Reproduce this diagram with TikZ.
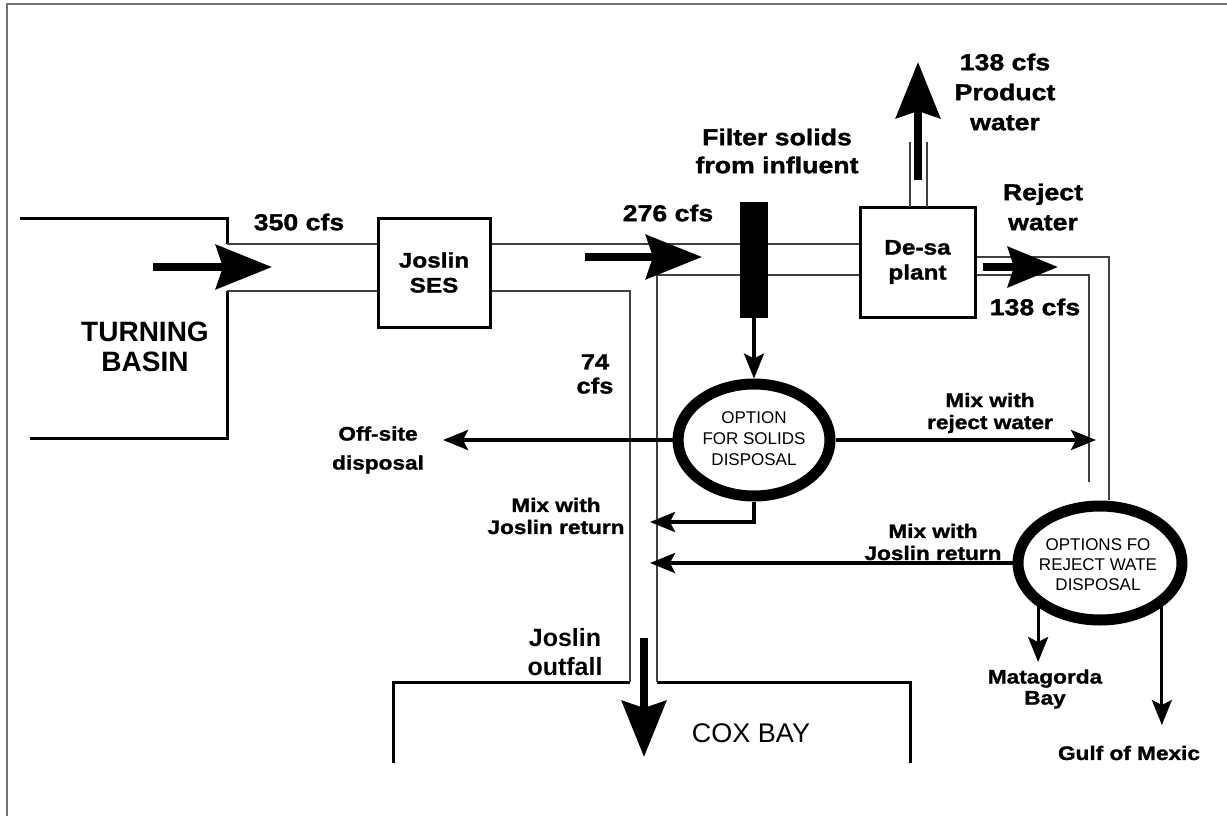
\documentclass[tikz,border=0pt]{standalone}
\usepackage{fontspec}
\setmainfont{Liberation Sans}
\newfontfamily\blk[FakeStretch=1.16,FakeBold=1.4]{Liberation Sans}
\usetikzlibrary{arrows.meta,shapes.geometric}
\begin{document}
\begin{tikzpicture}[x=1pt,y=-1pt,
  pipe/.style={line width=1.1pt, black!75},
  wall/.style={line width=3pt},
  frame/.style={line width=1.4pt, black!55},
  wallbox/.style={draw, line width=3pt, inner sep=0pt, align=center,
    font=\blk\bfseries\fontsize{21}{25}\selectfont},
  bigarrow/.style={line width=8pt, -{Stealth[length=56pt,width=44pt,inset=7pt]}},
  smallarrow/.style={line width=3.2pt, -{Stealth[length=25pt,width=20pt,inset=5pt]}},
  optell/.style={ellipse, draw, line width=11pt, inner sep=0pt},
  opttext/.style={align=center, inner sep=0pt, font=\fontsize{17}{21}\selectfont},
  lab/.style={align=center, inner sep=0pt, font=\blk\bfseries\fontsize{23}{29}\selectfont},
  labm/.style={align=center, inner sep=0pt, font=\blk\bfseries\fontsize{22}{24}\selectfont},
  labs/.style={align=center, inner sep=0pt, font=\blk\bfseries\fontsize{19.5}{22}\selectfont},
  bigname/.style={align=center, inner sep=0pt, font=\bfseries\fontsize{28}{30}\selectfont},
  outname/.style={align=center, inner sep=0pt, font=\bfseries\fontsize{25}{29}\selectfont},
  bayname/.style={align=center, inner sep=0pt, font=\fontsize{27}{30}\selectfont}]
\useasboundingbox (0,0) rectangle (1227,816);

% frame of the scanned page
\draw[frame] (7,816) -- (7,4) -- (1227,4);

% helper levels
\coordinate (ya) at (0,244);
\coordinate (yb) at (0,291);
\coordinate (yc) at (0,275);
\coordinate (yd) at (0,257);

% nodes
\node[wallbox, minimum width=112pt, minimum height=109pt] (jos) at (434,272.5) {Joslin\\SES};
\node[fill=black, minimum width=28pt, minimum height=116pt, inner sep=0pt] (filt) at (754,260) {};
\node[wallbox, minimum width=115pt, minimum height=110pt] (desa) at (917.5,262) {De-sa\\plant};
\node[optell, minimum width=152pt, minimum height=112pt] (sol) at (754,440) {};
\node[opttext] (soltxt) at (754,439) {OPTION\\FOR SOLIDS\\DISPOSAL};
\node[optell, minimum width=164pt, minimum height=114pt] (rej) at (1100,563) {};
\node[opttext, font=\fontsize{17}{20}\selectfont] (rejtxt) at (1098,565) {OPTIONS FO\\REJECT WATE\\DISPOSAL};

% Turning basin
\draw[wall] (20,218) -- (227,218) -- (227,244);
\draw[wall] (227,291) -- (227,438) -- (30,438);
\node[bigname] (tb) at (145,347) {TURNING\\BASIN};

% Cox Bay
\draw[wall] (393,763) -- (393,682) -- (630,682);
\draw[wall] (657,682) -- (910,682) -- (910,763);
\node[bayname] (cox) at (751,733) {COX BAY};

% pipes
\draw[pipe] (227,244) -- (jos.west |- ya);
\draw[pipe] (227,291) -- (jos.west |- yb);
\draw[pipe] (jos.east |- ya) -- (filt.west |- ya);
\draw[pipe] (filt.east |- ya) -- (desa.west |- ya);
\draw[pipe] (jos.east |- yb) -- (630,291) -- (630,682);
\draw[pipe] (657,682) -- (657,275) -- (filt.west |- yc);
\draw[pipe] (filt.east |- yc) -- (desa.west |- yc);
\draw[pipe] (910,142) -- (910,207);
\draw[pipe] (927,142) -- (927,207);
\draw[pipe] (desa.east |- yd) -- (1109,257) -- (1109,500);
\draw[pipe] (desa.east |- yc) -- (1089,275) -- (1089,482);

% big flow arrows
\coordinate (a1s) at (153,267); \coordinate (a1t) at (272,267);
\draw[bigarrow] (a1s) -- (a1t);
\coordinate (a2s) at (585,257); \coordinate (a2t) at (702,257);
\draw[bigarrow] (a2s) -- (a2t);
\coordinate (pws) at (918,180); \coordinate (pwt) at (918,62);
\draw[bigarrow] (pws) -- (pwt);
\coordinate (rws) at (983,267); \coordinate (rwt) at (1058,267);
\draw[bigarrow, -{Stealth[length=50pt,width=40pt,inset=6pt]}] (rws) -- (rwt);
\coordinate (ofs) at (644,638); \coordinate (oft) at (644,757);
\draw[bigarrow] (ofs) -- (oft);

% small arrows
\coordinate (offtip) at (443,440);
\coordinate (mrtip) at (1096,440);
\coordinate (m1tip) at (650,522);
\coordinate (m2tip) at (650,563);
\coordinate (mattip) at (0,662);
\coordinate (gulftip) at (0,725);
\draw[smallarrow] (filt.south) -- (sol.north);
\draw[smallarrow] (sol.west) -- (offtip);
\draw[smallarrow] (sol.east) -- (mrtip);
\draw[smallarrow] (sol.south) |- (m1tip);
\draw[smallarrow] (rej.west) -- (m2tip);
\draw[smallarrow] (rej.south west) -- (rej.south west |- mattip);
\draw[smallarrow] (rej.south east) -- (rej.south east |- gulftip);

% labels
\node[lab] (q350) at (299,222) {350 cfs};
\node[lab] (q276) at (668,213) {276 cfs};
\node[lab, font=\blk\bfseries\fontsize{23}{28}\selectfont] (filtlab) at (777,151) {Filter solids\\from influent};
\node[lab, font=\blk\bfseries\fontsize{23}{30}\selectfont] (prodlab) at (1005,92) {138 cfs\\Product\\water};
\node[lab, font=\blk\bfseries\fontsize{23}{30}\selectfont] (rejlab) at (1043,207) {Reject\\water};
\node[lab] (q138) at (1035,307) {138 cfs};
\node[labm] (q74) at (595,374) {74\\cfs};
\node[labs, font=\blk\bfseries\fontsize{19.5}{29}\selectfont] (offlab) at (378,450) {Off-site\\disposal};
\node[labs] (mrlab) at (990,413) {Mix with\\reject water};
\node[labs] (m1lab) at (556,516) {Mix with\\Joslin return};
\node[labs] (m2lab) at (933,542) {Mix with\\Joslin return};
\node[labs, font=\blk\bfseries\fontsize{19.5}{21}\selectfont] (matlab) at (1045,689) {Matagorda\\Bay};
\node[labs] (gulflab) at (1129,753) {Gulf of Mexic};
\node[outname] (outlab) at (565,652) {Joslin\\outfall};
\end{tikzpicture}
\end{document}
